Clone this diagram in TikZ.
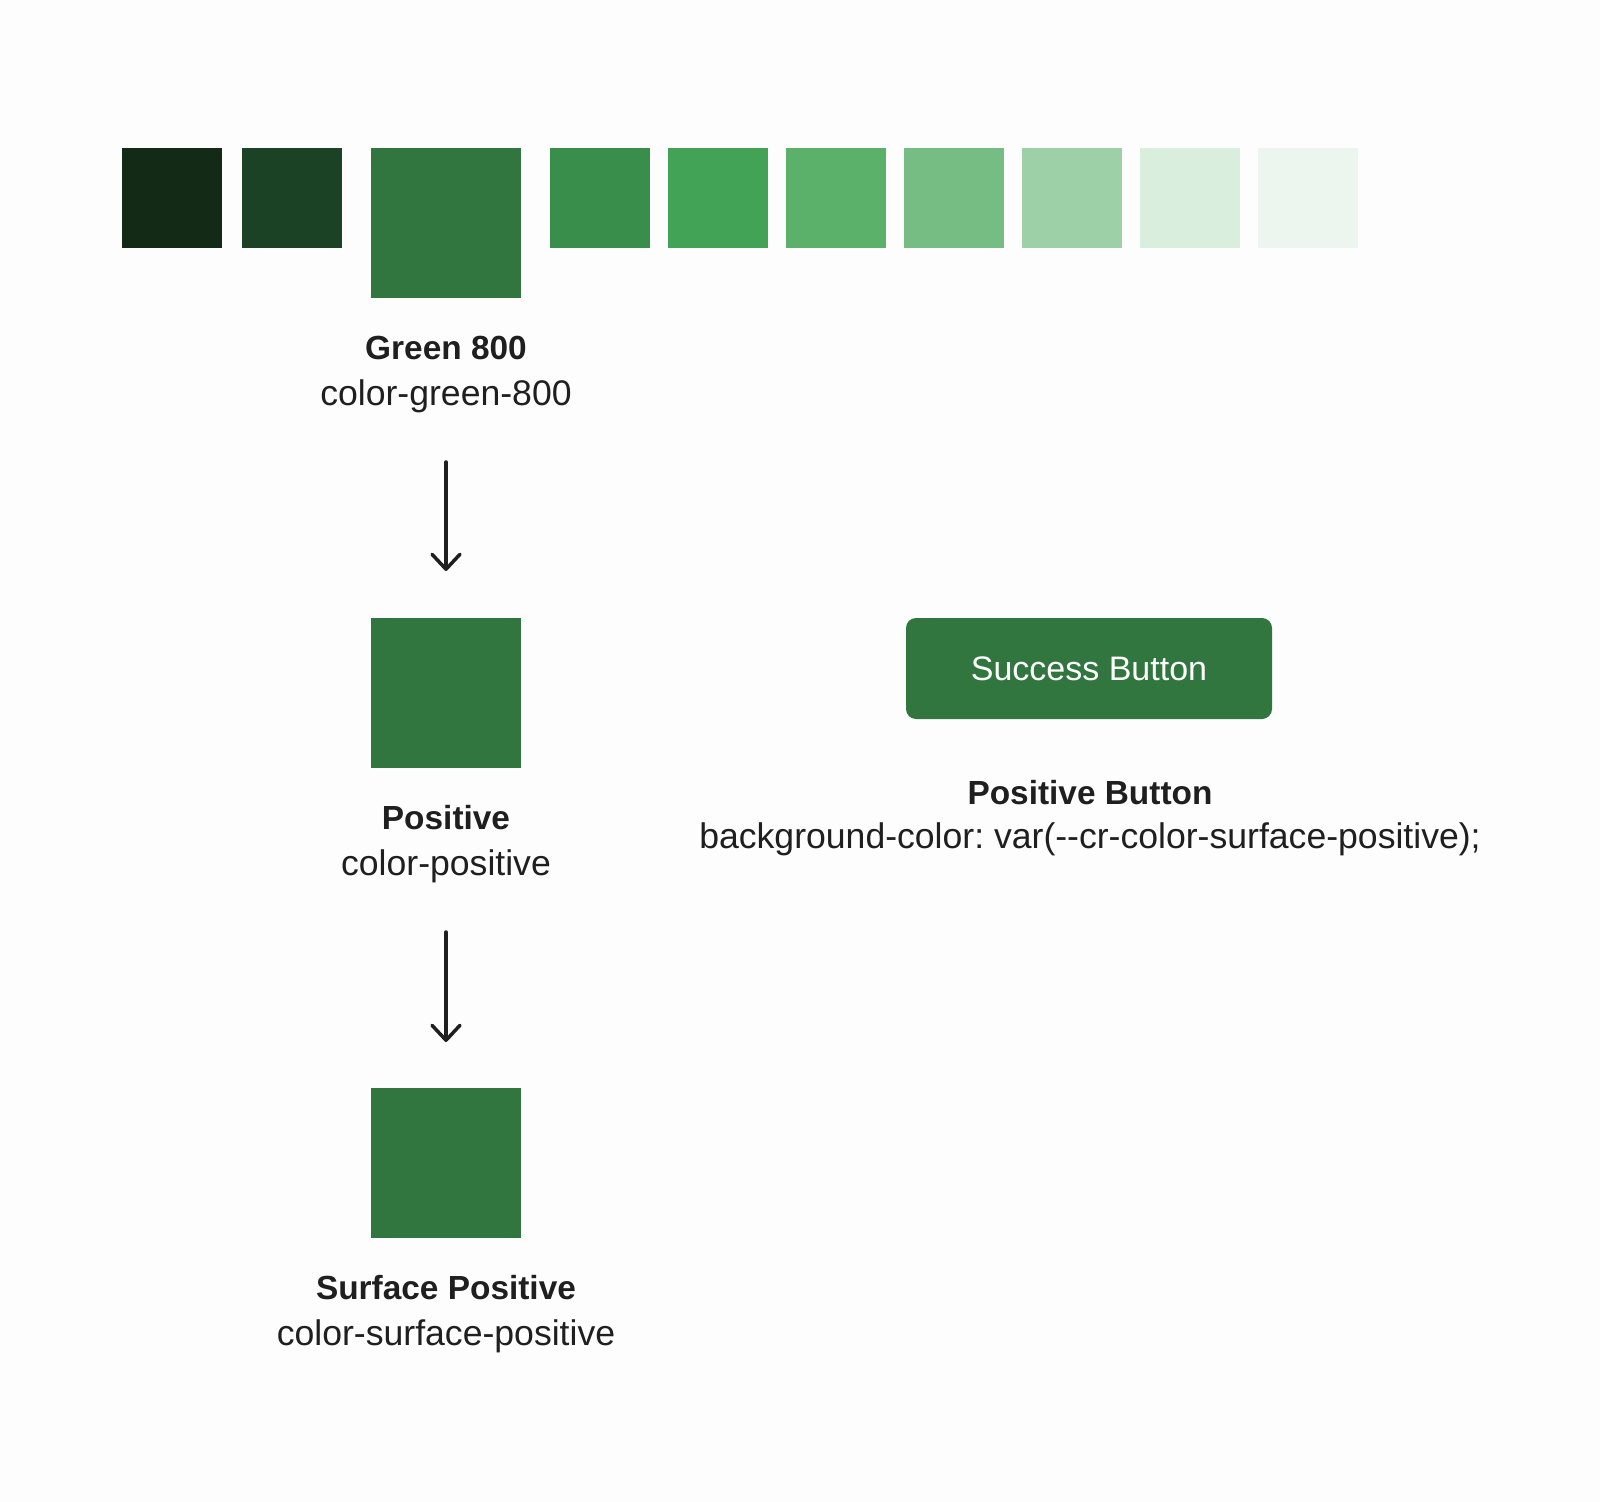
\documentclass[tikz,border=0pt]{standalone}
\usepackage{fontspec}
\setmainfont{Liberation Sans}
\usetikzlibrary{arrows.meta}
\frenchspacing
\definecolor{bg}{HTML}{FDFDFD}
\definecolor{ink}{HTML}{1F1F1F}
\definecolor{gA}{HTML}{132A16}
\definecolor{gB}{HTML}{1B4224}
\definecolor{gC}{HTML}{31763E}
\definecolor{gD}{HTML}{398E4B}
\definecolor{gE}{HTML}{42A356}
\definecolor{gF}{HTML}{5BB06A}
\definecolor{gG}{HTML}{76BD83}
\definecolor{gH}{HTML}{9ED0A7}
\definecolor{gI}{HTML}{D9EEDD}
\definecolor{gJ}{HTML}{EDF6EE}
\tikzset{
  sw/.style={rectangle, inner sep=0pt, outer sep=0pt, minimum size=50pt, draw=none},
  big/.style={sw, minimum size=75pt, fill=gC},
  ttl/.style={inner sep=0pt, anchor=base, text=ink, font=\fontsize{16.7}{20}\selectfont\bfseries},
  cde/.style={inner sep=0pt, anchor=base, text=ink, font=\fontsize{17.8}{20}\selectfont\frenchspacing},
  arr/.style={draw=ink, line width=1.75pt, line cap=round, -{Straight Barb[length=7.5pt, width=14pt, line width=1.75pt, line cap=round, line join=round]}},
  btn/.style={rectangle, rounded corners=5pt, fill=gC, minimum width=183pt, minimum height=50.5pt, inner sep=0pt, text=white, font=\fontsize{17}{20}\selectfont}
}
\begin{document}
\begin{tikzpicture}[x=0.5pt, y=-0.5pt]
\fill[bg] (0,0) rectangle (1600,1502);
\useasboundingbox (0,0) rectangle (1600,1502);
% palette
\node[sw, fill=gA] (s1) at (172,198) {};
\node[sw, fill=gB] (s2) at (292,198) {};
\node[big] (s3) at (446,223) {};
\node[sw, fill=gD] (s4) at (600,198) {};
\node[sw, fill=gE] (s5) at (718,198) {};
\node[sw, fill=gF] (s6) at (836,198) {};
\node[sw, fill=gG] (s7) at (954,198) {};
\node[sw, fill=gH] (s8) at (1072,198) {};
\node[sw, fill=gI] (s9) at (1190,198) {};
\node[sw, fill=gJ] (s10) at (1308,198) {};
\node[ttl] (t1) at (446,360) {Green 800};
\node[cde] (c1) at (446,406) {color-green-800};
% positive
\node[big] (p) at (446,693) {};
\node[ttl] (t2) at (446,829) {Positive};
\node[cde] (c2) at (446,875) {color-positive};
% surface positive
\node[big] (sp) at (446,1163) {};
\node[ttl] (t3) at (446,1299) {Surface Positive};
\node[cde] (c3) at (446,1345) {color-surface-positive};
% arrows
\draw[arr, shorten <=28pt, shorten >=23.5pt] (c1.base) -- (p.north);
\draw[arr, shorten <=28.5pt, shorten >=23pt] (c2.base) -- (sp.north);
% button
\node[btn] (b) at (1089,668.5) {Success Button};
\node[ttl] (t4) at (1090,804) {Positive Button};
\node[cde] (c4) at (1090,848) {background-color: var(-{}-cr-color-surface-positive);};
\end{tikzpicture}
\end{document}
